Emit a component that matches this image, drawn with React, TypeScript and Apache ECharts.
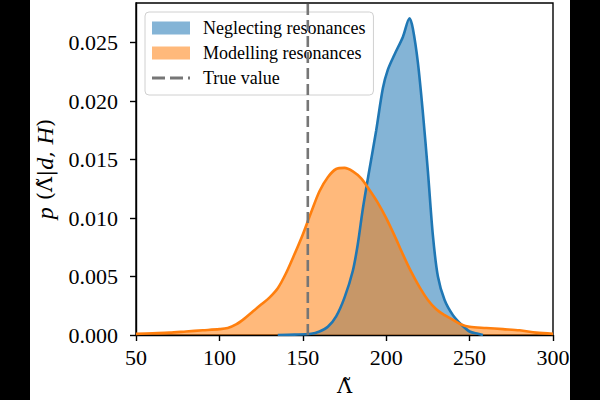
import React, { useEffect, useRef } from "react";
import * as echarts from "echarts";

const xTicks = [50, 100, 150, 200, 250, 300];
const yTicks = [0, 0.005, 0.01, 0.015, 0.02, 0.025];

const blueX = [135, 145, 155, 160, 165, 170, 175, 180, 183, 186, 190, 194, 198, 201, 205, 210, 214, 216, 219, 222, 225, 228, 231, 235, 240, 245, 250, 255, 258];
const blueY = [0, 0.00003, 0.0001, 0.0003, 0.0007, 0.0016, 0.0032, 0.0055, 0.0078, 0.0108, 0.0142, 0.0175, 0.0211, 0.0227, 0.024, 0.0255, 0.0271, 0.0262, 0.0233, 0.019, 0.014, 0.0085, 0.005, 0.003, 0.0017, 0.0009, 0.0003, 0.0001, 0];

const orangeX = [50, 60, 70, 80, 90, 100, 105, 110, 115, 120, 125, 130, 135, 140, 145, 150, 155, 160, 165, 170, 175, 180, 185, 190, 195, 200, 205, 210, 215, 220, 225, 230, 235, 240, 245, 250, 260, 270, 280, 290, 300];
const orangeY = [0.0001, 0.00015, 0.0002, 0.0003, 0.0004, 0.0005, 0.0006, 0.0009, 0.0014, 0.002, 0.0026, 0.0032, 0.004, 0.0053, 0.0069, 0.0086, 0.0105, 0.0123, 0.0135, 0.0142, 0.0143, 0.014, 0.0134, 0.0124, 0.0113, 0.01, 0.0085, 0.0069, 0.0054, 0.0041, 0.003, 0.0022, 0.0017, 0.0013, 0.0009, 0.0007, 0.0006, 0.0005, 0.0004, 0.0002, 0.0001];

const trueValue = 153;
const yMax = 0.0284;

const FONT = "Liberation Serif";
const MATH = "DejaVu Serif";

const BLUE = "#1f77b4";
const ORANGE = "#ff7f0e";
const BLUE_FILL = "rgba(31,119,180,0.55)";
const ORANGE_FILL = "rgba(255,127,14,0.55)";
const GREY = "#767676";

const DASH_ICON = "path://M0,0L0.01,0L0.01,0.01Z M0,5h13v3h-13Z M18,5h13v3h-13Z M36,5h2v3h-2Z M38,13L37.99,13L37.99,12.99Z";

export default function App() {
  const ref = useRef<HTMLDivElement>(null);
  useEffect(() => {
    if (!ref.current) return;
    const chart = echarts.init(ref.current, null, { renderer: "svg" });
    const zip = (xs: number[], ys: number[]) => xs.map((x, i) => [x, ys[i]]);
    chart.setOption({
      animation: false,
      backgroundColor: "#ffffff",
      textStyle: { fontFamily: FONT },
      grid: {
        left: 136,
        right: 47,
        top: 3,
        bottom: 65,
        outerBoundsMode: "none",
        containLabel: false,
        show: true,
        borderColor: "#000",
        borderWidth: 1.4,
        backgroundColor: "transparent",
      },
      legend: {
        orient: "vertical",
        left: 145,
        top: 12,
        padding: [7, 8, 8, 7],
        itemWidth: 38,
        itemHeight: 13,
        itemGap: 7,
        backgroundColor: "rgba(255,255,255,0.85)",
        borderColor: "#d0d0d0",
        borderWidth: 1,
        borderRadius: 4,
        textStyle: { fontFamily: FONT, fontSize: 18, color: "#000", lineHeight: 18, padding: [0, 0, 0, 8] },
        data: [
          { name: "Neglecting resonances", icon: "rect", itemStyle: { color: BLUE_FILL, borderWidth: 0, opacity: 1 } },
          { name: "Modelling resonances", icon: "rect", itemStyle: { color: ORANGE_FILL, borderWidth: 0, opacity: 1 } },
          { name: "True value", icon: DASH_ICON, itemStyle: { color: GREY, borderWidth: 0 } },
        ],
      },
      xAxis: {
        type: "value",
        min: 50,
        max: 300,
        interval: 50,
        name: "Λ\u0303",
        nameLocation: "middle",
        nameGap: 40,
        nameTextStyle: { fontFamily: MATH, fontSize: 21, color: "#000" },
        splitLine: { show: false },
        axisLine: { show: true, onZero: false, lineStyle: { color: "#000", width: 1.4 } },
        axisTick: { show: true, length: 6, lineStyle: { color: "#000", width: 1.4 }, customValues: xTicks },
        axisLabel: { color: "#000", fontSize: 22, fontFamily: FONT, margin: 11, customValues: xTicks },
      },
      yAxis: {
        type: "value",
        min: 0,
        max: yMax,
        interval: 0.005,
        name: "{i|p} {m|(Λ\u0303|}{i|d}{m|, }{i|H}{m|)}",
        nameLocation: "middle",
        nameRotate: 90,
        nameGap: 79,
        nameTextStyle: {
          fontFamily: MATH,
          fontSize: 22,
          color: "#000",
          rich: {
            i: { fontFamily: FONT, fontStyle: "italic", fontSize: 24, color: "#000" },
            m: { fontFamily: MATH, fontSize: 21, color: "#000" },
          },
        },
        splitLine: { show: false },
        axisLine: { show: true, lineStyle: { color: "#000", width: 1.4 } },
        axisTick: { show: true, length: 6, lineStyle: { color: "#000", width: 1.4 }, customValues: yTicks },
        axisLabel: {
          color: "#000",
          fontSize: 22,
          fontFamily: FONT,
          margin: 18,
          customValues: yTicks,
          formatter: (v: number) => v.toFixed(3),
        },
      },
      series: [
        {
          name: "Neglecting resonances",
          type: "line",
          data: zip(blueX, blueY),
          smooth: 0.3,
          symbol: "none",
          lineStyle: { width: 0, color: BLUE },
          itemStyle: { color: BLUE },
          areaStyle: { color: BLUE_FILL, opacity: 1, origin: "start" },
          z: 2,
        },
        {
          name: "Modelling resonances",
          type: "line",
          data: zip(orangeX, orangeY),
          smooth: 0.3,
          symbol: "none",
          lineStyle: { width: 0, color: ORANGE },
          itemStyle: { color: ORANGE },
          areaStyle: { color: ORANGE_FILL, opacity: 1, origin: "start" },
          z: 3,
        },
        {
          name: "Neglecting resonances line",
          type: "line",
          data: zip(blueX, blueY),
          smooth: 0.3,
          symbol: "none",
          lineStyle: { color: BLUE, width: 2.6 },
          itemStyle: { color: BLUE },
          z: 4,
        },
        {
          name: "Modelling resonances line",
          type: "line",
          data: zip(orangeX, orangeY),
          smooth: 0.3,
          symbol: "none",
          lineStyle: { color: ORANGE, width: 2.6 },
          itemStyle: { color: ORANGE },
          z: 5,
        },
        {
          name: "True value",
          type: "line",
          data: [[trueValue, 0], [trueValue, yMax]],
          symbol: "none",
          lineStyle: { color: GREY, width: 2.6, type: [11, 5] },
          itemStyle: { color: GREY },
          z: 6,
        },
      ],
      graphic: [
        { type: "rect", left: 0, top: 0, shape: { width: 30, height: 400 }, style: { fill: "#000" }, z: 100 },
        { type: "rect", left: 570, top: 0, shape: { width: 30, height: 400 }, style: { fill: "#000" }, z: 100 },
      ],
    });
    return () => chart.dispose();
  }, []);
  return <div ref={ref} style={{ position: "fixed", left: 0, top: 0, width: 600, height: 400 }} />;
}
